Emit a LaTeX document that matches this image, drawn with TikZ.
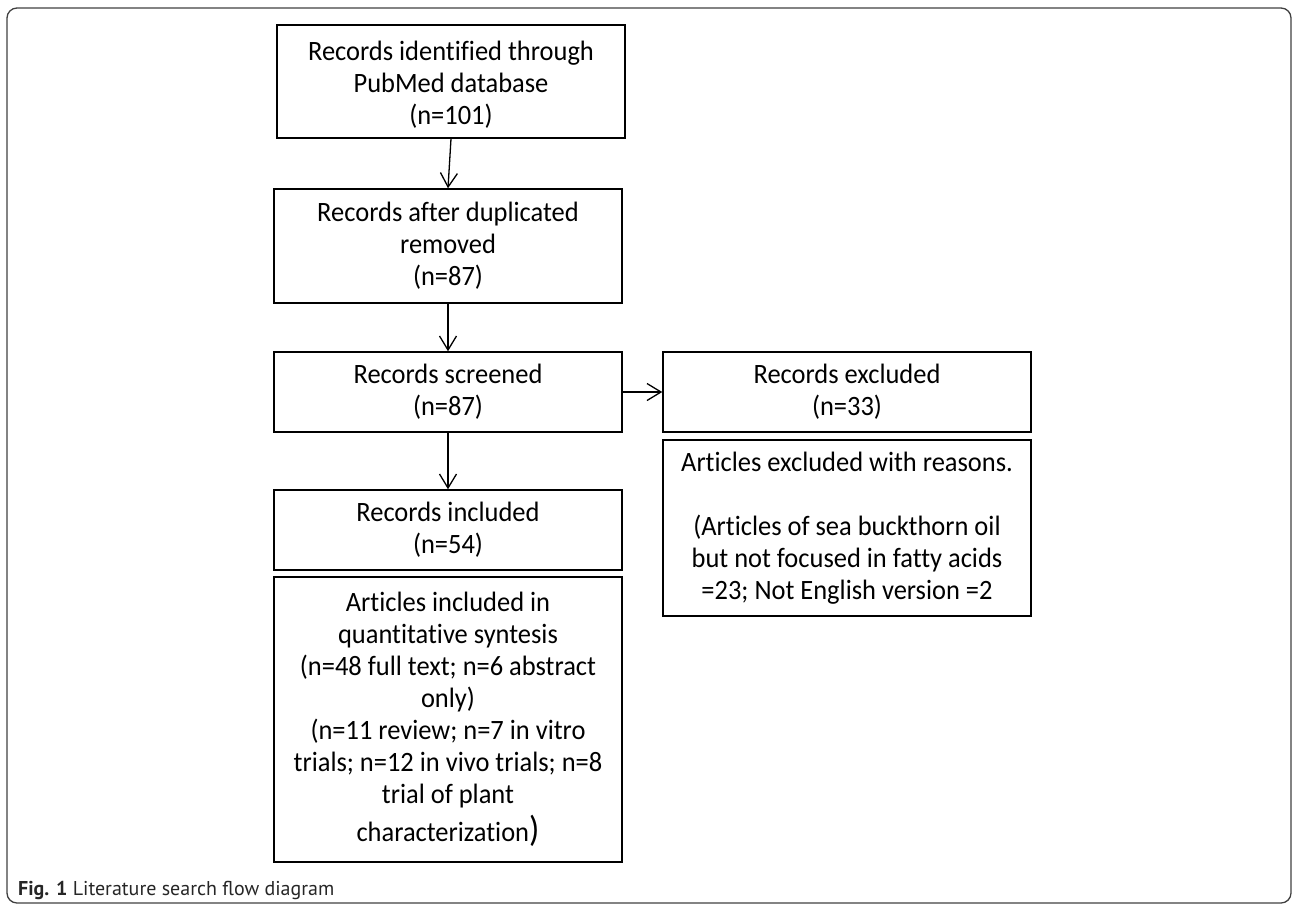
\documentclass[tikz,border=0pt]{standalone}
\usepackage{fontspec}
\setmainfont{Carlito}[FakeStretch=0.945, Ligatures=NoCommon]
\newfontfamily\capfont{PT Sans}
\usetikzlibrary{arrows.meta}
\tikzset{
  box/.style={draw=black, line width=1.5pt, inner sep=0pt, align=center,
    font=\fontsize{28}{32}\selectfont, text=black},
  flow/.style={draw=black, line width=1.3pt, -{Straight Barb[length=14pt,width=17pt,line width=1.3pt]}},
  frame/.style={draw=black!75, line width=1.3pt, rounded corners=10pt}
}
\begin{document}
\begin{tikzpicture}[x=1pt,y=-1pt]
\useasboundingbox (0,0) rectangle (1293,906);
\draw[frame] (7,8) rectangle (1291,903);

\node[box, minimum width=348pt, minimum height=113pt] (b1) at (451,81.5)
  {\\[-6pt]Records identified through\\PubMed database\\(n=101)};
\node[box, minimum width=348pt, minimum height=114pt] (b2) at (448,246)
  {Records after duplicated\\removed\\(n=87)};
\node[box, minimum width=348pt, minimum height=80pt] (b3) at (448,392)
  {Records screened\\(n=87)};
\node[box, minimum width=368pt, minimum height=80pt] (ex1) at (847,392)
  {Records excluded\\(n=33)};
\node[box, minimum width=368pt, minimum height=176pt] (ex2) at (847,528)
  {Articles excluded with reasons.\\[32pt](Articles of sea buckthorn oil\\but not focused in fatty acids\\=23; Not English version =2};
\node[box, minimum width=348pt, minimum height=80pt] (inc1) at (448,530)
  {Records included\\(n=54)};
\node[box, minimum width=348pt, minimum height=285pt] (inc2) at (448,719.5)
  {Articles included in\\quantitative syntesis\\(n=48 full text; n=6 abstract\\only)\\(n=11 review; n=7 in vitro\\trials; n=12 in vivo trials; n=8\\trial of plant\\[6pt]characterization{\fontsize{36}{36}\selectfont)}};

\draw[flow] (b1.south) -- (b2.north);
\draw[flow] (b2.south) -- (b3.north);
\draw[flow] (b3.east) -- (ex1.west);
\draw[flow] (b3.south) -- (inc1.north);

\node[anchor=base west, inner sep=0pt, font=\capfont\fontsize{20}{23}\selectfont, text=black!85] (cap) at (18,895)
  {\textbf{Fig. 1} Literature search flow diagram};
\end{tikzpicture}
\end{document}
